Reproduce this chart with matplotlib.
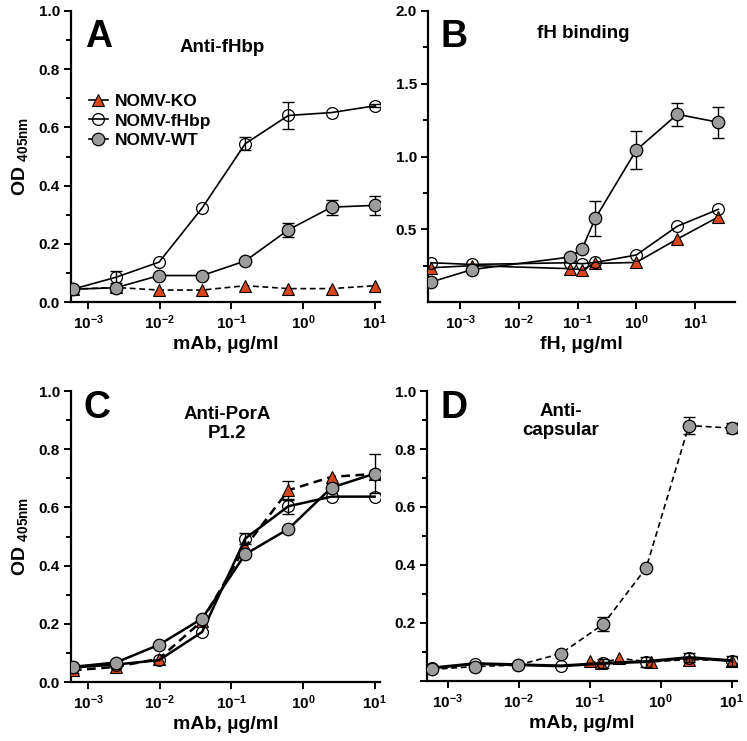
import matplotlib
matplotlib.use("Agg")
import matplotlib.pyplot as plt
from matplotlib.lines import Line2D
import numpy as np

plt.rcParams["font.family"] = ["Liberation Sans", "DejaVu Sans"]
plt.rcParams["font.weight"] = "bold"
plt.rcParams["mathtext.fontset"] = "custom"
plt.rcParams["mathtext.bf"] = "Liberation Sans:bold"
plt.rcParams["mathtext.rm"] = "Liberation Sans:bold"
plt.rcParams["mathtext.default"] = "bf"

# ─── Data ─────────────────────────────────────────────────────────────────────

x_mab = [6.1e-4, 2.44e-3, 9.77e-3, 0.039, 0.156, 0.625, 2.5, 10]
decades = [-3, -2, -1, 0, 1]

# A: Anti-fHbp
a_ko = [0.044, 0.05, 0.041, 0.041, 0.056, 0.046, 0.046, 0.056]
a_fhbp = [0.044, 0.085, 0.137, 0.323, 0.544, 0.641, 0.651, 0.674]
a_fhbp_err = [0, 0.02, 0, 0, 0.022, 0.045, 0, 0.005]
a_wt = [0.044, 0.049, 0.091, 0.091, 0.141, 0.248, 0.326, 0.332]
a_wt_err = [0, 0, 0, 0, 0, 0.025, 0.026, 0.032]

# B: fH binding
x_fh = [3.2e-4, 1.6e-3, 0.075, 0.12, 0.2, 1, 5, 25]
b_wt = [0.137, 0.223, 0.309, 0.367, 0.574, 1.044, 1.29, 1.235]
b_wt_err = [0, 0, 0, 0, 0.12, 0.13, 0.08, 0.105]
b_fhbp = [0.27, 0.258, 0.27, 0.263, 0.272, 0.323, 0.521, 0.637]
b_ko = [0.235, 0.25, 0.229, 0.222, 0.265, 0.272, 0.433, 0.585]

# C: Anti-PorA P1.2
c_ko = [0.04, 0.052, 0.08, 0.21, 0.464, 0.659, 0.705, 0.715]
c_ko_err = [0.01, 0, 0, 0, 0, 0.033, 0, 0]
c_fhbp = [0.05, 0.06, 0.075, 0.172, 0.493, 0.604, 0.637, 0.637]
c_fhbp_err = [0, 0, 0, 0, 0.02, 0.025, 0, 0]
c_wt = [0.052, 0.067, 0.128, 0.218, 0.439, 0.526, 0.668, 0.716]
c_wt_err = [0, 0, 0, 0, 0, 0, 0, 0.066]

# D: Anti-capsular
d_wt = [0.04, 0.05, 0.055, 0.094, 0.196, 0.39, 0.881, 0.872]
d_wt_err = [0, 0, 0, 0, 0.024, 0, 0.03, 0.017]
d_fhbp = [0.045, 0.06, 0.056, 0.052, 0.061, 0.067, 0.081, 0.07]
d_fhbp_err = [0, 0, 0, 0, 0.015, 0.017, 0.015, 0.017]
x_d_ko = [0.1, 0.145, 0.26, 0.72, 2.5, 10]
d_ko = [0.069, 0.061, 0.078, 0.066, 0.074, 0.07]

labels = ["NOMV-KO", "NOMV-fHbp", "NOMV-WT"]

# ─── Styles ───────────────────────────────────────────────────────────────────

RED = "#d6471c"
GRAY = "#9c9c9c"
DASH = (3.5, 2.2)
W, H = 747, 741
TICK_FS = 11
LABEL_FS = 14
TITLE_FS = 13.5
LETTER_FS = 27

KO = dict(marker="^", ms=8, mfc=RED, mec="black", mew=0.8, color="black")
FH = dict(marker="o", ms=8.5, mfc="none", mec="black", mew=0.9, color="black")
WT = dict(marker="o", ms=9, mfc=GRAY, mec="black", mew=0.9, color="black")


def series(ax, x, y, style, lw=1.2, dashed=False, err=None, z=3):
    ls = "--" if dashed else "-"
    line, = ax.plot(x, y, ls=ls, lw=lw, zorder=z, **style)
    if dashed:
        line.set_dashes(DASH)
    if err is not None:
        xe = [a for a, e in zip(x, err) if e > 0]
        ye = [b for b, e in zip(y, err) if e > 0]
        ee = [e for e in err if e > 0]
        ax.errorbar(xe, ye, yerr=ee, fmt="none", ecolor="black", elinewidth=1.0,
                    capsize=4, capthick=1.0, zorder=z - 0.5)
    return line


def make_axes(fig, px):
    l, t, r, b = px
    ax = fig.add_axes([l / W, 1 - b / H, (r - l) / W, (b - t) / H])
    ax.set_xscale("log")
    for s in ("top", "right"):
        ax.spines[s].set_visible(False)
    for s in ("left", "bottom"):
        ax.spines[s].set_linewidth(1.6)
    ax.tick_params(which="both", direction="out", width=1.4, labelsize=TICK_FS)
    ax.tick_params(which="major", length=5, pad=3)
    ax.tick_params(which="minor", length=3.5)
    ticks = [10.0 ** d for d in decades]
    ax.set_xticks(ticks, [r"$\mathbf{10^{%d}}$" % d for d in decades])
    ax.xaxis.set_minor_locator(matplotlib.ticker.NullLocator())
    return ax


def od_axis(ax, hide_zero=False):
    ax.set_ylim(0, 1.0)
    ax.set_yticks(np.arange(0, 1.01, 0.2))
    ax.set_yticks(np.arange(0.1, 1.0, 0.2), minor=True)
    labs = ["%.1f" % v for v in np.arange(0, 1.01, 0.2)]
    if hide_zero:
        labs[0] = ""
    ax.set_yticklabels(labs)


def fig_text(fig, x, y, s, **kw):
    fig.text(x / W, 1 - y / H, s, ha="center", va="center", fontweight="bold", **kw)


fig = plt.figure(figsize=(W / 100, H / 100), dpi=100)

# ─── A ────────────────────────────────────────────────────────────────────────

ax = make_axes(fig, (71, 11, 380, 302))
ax.set_xlim(10 ** -3.24, 10 ** 1.075)
od_axis(ax)
series(ax, x_mab, a_ko, KO, dashed=True, z=3)
series(ax, x_mab, a_fhbp, FH, err=a_fhbp_err, z=4)
series(ax, x_mab, a_wt, WT, err=a_wt_err, z=5)
ax.set_xlabel("mAb, µg/ml", fontsize=LABEL_FS, fontweight="bold", labelpad=3)
ax.set_ylabel(r"OD $_{405nm}$", fontsize=LABEL_FS, fontweight="bold", labelpad=6)
handles = [Line2D([], [], lw=1.2, **KO), Line2D([], [], lw=1.2, **FH),
           Line2D([], [], lw=1.2, **WT)]
ax.legend(handles, labels, loc="upper left", bbox_to_anchor=(0.03, 0.745),
          frameon=False, handlelength=1.1, handletextpad=0.4, labelspacing=0.25,
          borderpad=0, prop={"size": 12.5, "weight": "bold"})
fig_text(fig, 99, 37, "A", fontsize=LETTER_FS)
fig_text(fig, 222, 48, "Anti-fHbp", fontsize=TITLE_FS)

# ─── B ────────────────────────────────────────────────────────────────────────

ax = make_axes(fig, (428, 11, 735, 302))
ax.set_xlim(10 ** -3.545, 10 ** 1.68)
ax.set_ylim(0, 2.0)
ax.set_yticks([0.5, 1.0, 1.5, 2.0])
ax.set_yticks([0.25, 0.75, 1.25, 1.75], minor=True)
ax.yaxis.set_major_formatter(matplotlib.ticker.FormatStrFormatter("%.1f"))
series(ax, x_fh, b_ko, KO, z=3)
series(ax, x_fh, b_fhbp, FH, z=4)
series(ax, x_fh, b_wt, WT, err=b_wt_err, z=5)
ax.set_xlabel("fH, µg/ml", fontsize=LABEL_FS, fontweight="bold", labelpad=3)
fig_text(fig, 454, 37, "B", fontsize=LETTER_FS)
fig_text(fig, 583, 34, "fH binding", fontsize=TITLE_FS)

# ─── C ────────────────────────────────────────────────────────────────────────

ax = make_axes(fig, (71, 391, 380, 682))
ax.set_xlim(10 ** -3.24, 10 ** 1.075)
od_axis(ax)
series(ax, x_mab, c_ko, KO, lw=1.8, dashed=True, err=c_ko_err, z=3)
series(ax, x_mab, c_fhbp, FH, lw=1.8, err=c_fhbp_err, z=4)
series(ax, x_mab, c_wt, WT, lw=1.8, err=c_wt_err, z=5)
ax.set_xlabel("mAb, µg/ml", fontsize=LABEL_FS, fontweight="bold", labelpad=3)
ax.set_ylabel(r"OD $_{405nm}$", fontsize=LABEL_FS, fontweight="bold", labelpad=6)
fig_text(fig, 97, 408, "C", fontsize=LETTER_FS)
fig_text(fig, 227, 424, "Anti-PorA\nP1.2", fontsize=TITLE_FS, linespacing=1.15)

# ─── D ────────────────────────────────────────────────────────────────────────

ax = make_axes(fig, (427, 391, 737, 681))
ax.set_xlim(10 ** -3.29, 10 ** 1.075)
od_axis(ax, hide_zero=True)
series(ax, x_d_ko, d_ko, KO, dashed=True, z=3)
series(ax, x_mab, d_fhbp, FH, lw=2.2, err=d_fhbp_err, z=4)
series(ax, x_mab, d_wt, WT, dashed=True, err=d_wt_err, z=5)
ax.set_xlabel("mAb, µg/ml", fontsize=LABEL_FS, fontweight="bold", labelpad=3)
fig_text(fig, 454, 408, "D", fontsize=LETTER_FS)
fig_text(fig, 561, 421, "Anti-\ncapsular", fontsize=TITLE_FS, linespacing=1.15)

fig.savefig("out.png", dpi=100)
